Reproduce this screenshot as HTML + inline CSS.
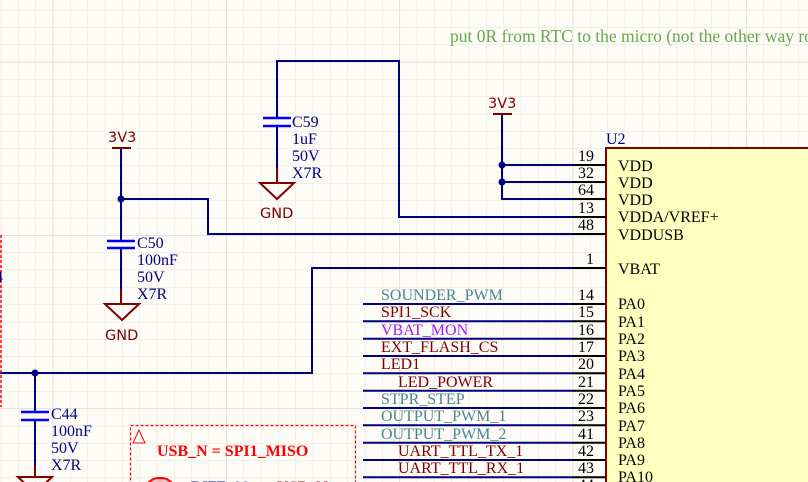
<!DOCTYPE html>
<html><head><meta charset="utf-8"><style>
html,body{margin:0;padding:0;background:#fdfbf6;}
svg{display:block;}
.s{font-family:"Liberation Serif",serif;font-size:16px;}
.d{font-family:"DejaVu Sans","Liberation Sans",sans-serif;font-size:14.5px;fill:#800000;}
</style></head><body>
<svg width="808" height="482" viewBox="0 0 808 482" xmlns="http://www.w3.org/2000/svg">
<defs>
<pattern id="g" x="52.7" y="61.7" width="17.333" height="17.333" patternUnits="userSpaceOnUse">
<path d="M0 0H17.333M0 0V17.333" stroke="#e8e5dc" stroke-width="1" fill="none"/>
</pattern>
<pattern id="G" x="52.7" y="61.7" width="173.33" height="173.33" patternUnits="userSpaceOnUse">
<path d="M0 0H173.33M0 0V173.33" stroke="#d6d4ce" stroke-width="1.2" fill="none"/>
</pattern>
</defs>
<rect width="808" height="482" fill="#fdfbf6"/>
<rect width="808" height="482" fill="url(#g)"/>
<rect width="808" height="482" fill="url(#G)"/>

<text x="450" y="42" class="s" style="font-size:17.5px" fill="#6aa84f">put 0R from RTC to the micro (not the other way round)</text>

<rect x="606" y="148" width="210" height="340" fill="#ffffc0" stroke="#800000" stroke-width="2"/>
<text x="606" y="144" class="s" fill="#000080">U2</text>

<g stroke="#000080" stroke-width="2" fill="none">
<polyline points="277,118 277,61 399,61 399,217 572,217"/>
<line x1="277" y1="126" x2="277" y2="182"/>
<polyline points="502,114 502,199 572,199"/>
<line x1="502" y1="165" x2="572" y2="165"/>
<line x1="502" y1="182" x2="572" y2="182"/>
<polyline points="121,148 121,241"/>
<polyline points="121,199 208,199 208,234 572,234"/>
<line x1="121" y1="248" x2="121" y2="304"/>
<polyline points="572,268 312,268 312,373 0,373"/>
<line x1="35" y1="373" x2="35" y2="412"/>
<line x1="35" y1="420" x2="35" y2="478"/>
</g>
<g fill="#000080">
<circle cx="502" cy="165" r="3.5"/><circle cx="502" cy="182" r="3.5"/>
<circle cx="121" cy="199" r="3.5"/><circle cx="35" cy="373" r="3.5"/>
</g>
<g stroke="#0000ff" stroke-width="2.5">
<line x1="263" y1="118" x2="291" y2="118"/><line x1="263" y1="126" x2="291" y2="126"/>
<line x1="107" y1="241" x2="135" y2="241"/><line x1="107" y1="248" x2="135" y2="248"/>
<line x1="21" y1="412" x2="49" y2="412"/><line x1="21" y1="420" x2="49" y2="420"/>
</g>
<g class="s" fill="#000080">
<text x="292" y="127">C59</text><text x="292" y="144">1uF</text><text x="292" y="161">50V</text><text x="292" y="178">X7R</text>
<text x="137" y="248">C50</text><text x="137" y="265">100nF</text><text x="137" y="282">50V</text><text x="137" y="299">X7R</text>
<text x="51" y="419">C44</text><text x="51" y="436">100nF</text><text x="51" y="453">50V</text><text x="51" y="470">X7R</text>
</g>
<g stroke="#800000" stroke-width="2" fill="none">
<line x1="112" y1="148" x2="131" y2="148"/>
<line x1="493" y1="114" x2="512" y2="114"/>
<line x1="277" y1="168" x2="277" y2="183"/><polygon points="260,183 294,183 277,199"/>
<line x1="121" y1="290" x2="121" y2="304"/><polygon points="105,304 139,304 122,320"/>
<line x1="35" y1="465" x2="35" y2="477"/><polygon points="18,477 52,477 35,493"/>
</g>
<text x="108" y="142" class="d">3V3</text>
<text x="488" y="108" class="d">3V3</text>
<text x="260" y="218" class="d">GND</text>
<text x="105" y="340" class="d">GND</text>

<g stroke="#000" stroke-width="2">
<line x1="572" y1="165" x2="606" y2="165"/><line x1="572" y1="182" x2="606" y2="182"/>
<line x1="572" y1="199" x2="606" y2="199"/><line x1="572" y1="217" x2="606" y2="217"/>
<line x1="572" y1="234" x2="606" y2="234"/><line x1="572" y1="268" x2="606" y2="268"/>
</g>
<g class="s" fill="#000" text-anchor="end">
<text x="594" y="161">19</text><text x="594" y="178">32</text><text x="594" y="195">64</text>
<text x="594" y="213">13</text><text x="594" y="230">48</text><text x="594" y="264">1</text>
</g>
<g class="s" fill="#000">
<text x="618" y="171">VDD</text><text x="618" y="188">VDD</text><text x="618" y="205">VDD</text>
<text x="618" y="222">VDDA/VREF+</text><text x="618" y="240">VDDUSB</text><text x="618" y="274">VBAT</text>
</g>

<g stroke-width="2">
<line x1="363" y1="304" x2="572" y2="304" stroke="#000080"/><line x1="572" y1="304" x2="606" y2="304" stroke="#000"/>
<line x1="363" y1="321.3" x2="572" y2="321.3" stroke="#000080"/><line x1="572" y1="321.3" x2="606" y2="321.3" stroke="#000"/>
<line x1="363" y1="338.7" x2="572" y2="338.7" stroke="#000080"/><line x1="572" y1="338.7" x2="606" y2="338.7" stroke="#000"/>
<line x1="363" y1="356" x2="572" y2="356" stroke="#000080"/><line x1="572" y1="356" x2="606" y2="356" stroke="#000"/>
<line x1="363" y1="373.3" x2="572" y2="373.3" stroke="#000080"/><line x1="572" y1="373.3" x2="606" y2="373.3" stroke="#000"/>
<line x1="363" y1="390.7" x2="572" y2="390.7" stroke="#000080"/><line x1="572" y1="390.7" x2="606" y2="390.7" stroke="#000"/>
<line x1="363" y1="408" x2="572" y2="408" stroke="#000080"/><line x1="572" y1="408" x2="606" y2="408" stroke="#000"/>
<line x1="363" y1="425.3" x2="572" y2="425.3" stroke="#000080"/><line x1="572" y1="425.3" x2="606" y2="425.3" stroke="#000"/>
<line x1="363" y1="442.7" x2="572" y2="442.7" stroke="#000080"/><line x1="572" y1="442.7" x2="606" y2="442.7" stroke="#000"/>
<line x1="363" y1="460" x2="572" y2="460" stroke="#000080"/><line x1="572" y1="460" x2="606" y2="460" stroke="#000"/>
<line x1="363" y1="477.3" x2="572" y2="477.3" stroke="#000080"/><line x1="572" y1="477.3" x2="606" y2="477.3" stroke="#000"/>
</g>
<g class="s" text-anchor="end" fill="#000">
<text x="594" y="300">14</text><text x="594" y="317">15</text><text x="594" y="335">16</text><text x="594" y="352">17</text>
<text x="594" y="369">20</text><text x="594" y="387">21</text><text x="594" y="404">22</text><text x="594" y="421">23</text>
<text x="594" y="439">41</text><text x="594" y="456">42</text><text x="594" y="473">43</text><text x="594" y="490">44</text>
</g>
<g class="s" fill="#000">
<text x="618" y="309">PA0</text><text x="618" y="327">PA1</text><text x="618" y="344">PA2</text><text x="618" y="361">PA3</text>
<text x="618" y="379">PA4</text><text x="618" y="396">PA5</text><text x="618" y="413">PA6</text><text x="618" y="431">PA7</text>
<text x="618" y="448">PA8</text><text x="618" y="465">PA9</text><text x="618" y="482">PA10</text>
</g>
<g class="s">
<text x="381" y="300" fill="#4a8694">SOUNDER_PWM</text>
<text x="381" y="317" fill="#800000">SPI1_SCK</text>
<text x="381" y="335" fill="#a020f0">VBAT_MON</text>
<text x="381" y="352" fill="#800000">EXT_FLASH_CS</text>
<text x="381" y="369" fill="#800000">LED1</text>
<text x="398" y="387" fill="#800000">LED_POWER</text>
<text x="381" y="404" fill="#4a8694">STPR_STEP</text>
<text x="381" y="421" fill="#4a8694">OUTPUT_PWM_1</text>
<text x="381" y="439" fill="#4a8694">OUTPUT_PWM_2</text>
<text x="398" y="456" fill="#800000">UART_TTL_TX_1</text>
<text x="398" y="473" fill="#800000">UART_TTL_RX_1</text>
</g>

<line x1="1" y1="235" x2="1" y2="407" stroke="#ff0000" stroke-width="1.5" stroke-dasharray="3,2"/>
<text x="-5" y="282" class="s" fill="#000080">4</text>
<rect x="130.5" y="425.5" width="225" height="80" fill="none" stroke="#ff0000" stroke-width="1.2" stroke-dasharray="3,2"/>
<polygon points="139,430 133,443 145,443" fill="none" stroke="#ff0000" stroke-width="1"/>
<text x="157" y="456" class="s" style="font-weight:bold;font-size:16px" fill="#ff0000">USB_N = SPI1_MISO</text>
<path d="M148 492 L148 483 Q153 478 158 478 L162 478 Q167 478 172 483 L172 492" fill="#f4c0c0" stroke="#ff0000" stroke-width="2"/>
<text x="191" y="492" class="s" fill="#000080">DIFF_90</text>
<text x="277" y="492" class="s" fill="#800000">USB_N</text>
</svg>
</body></html>
